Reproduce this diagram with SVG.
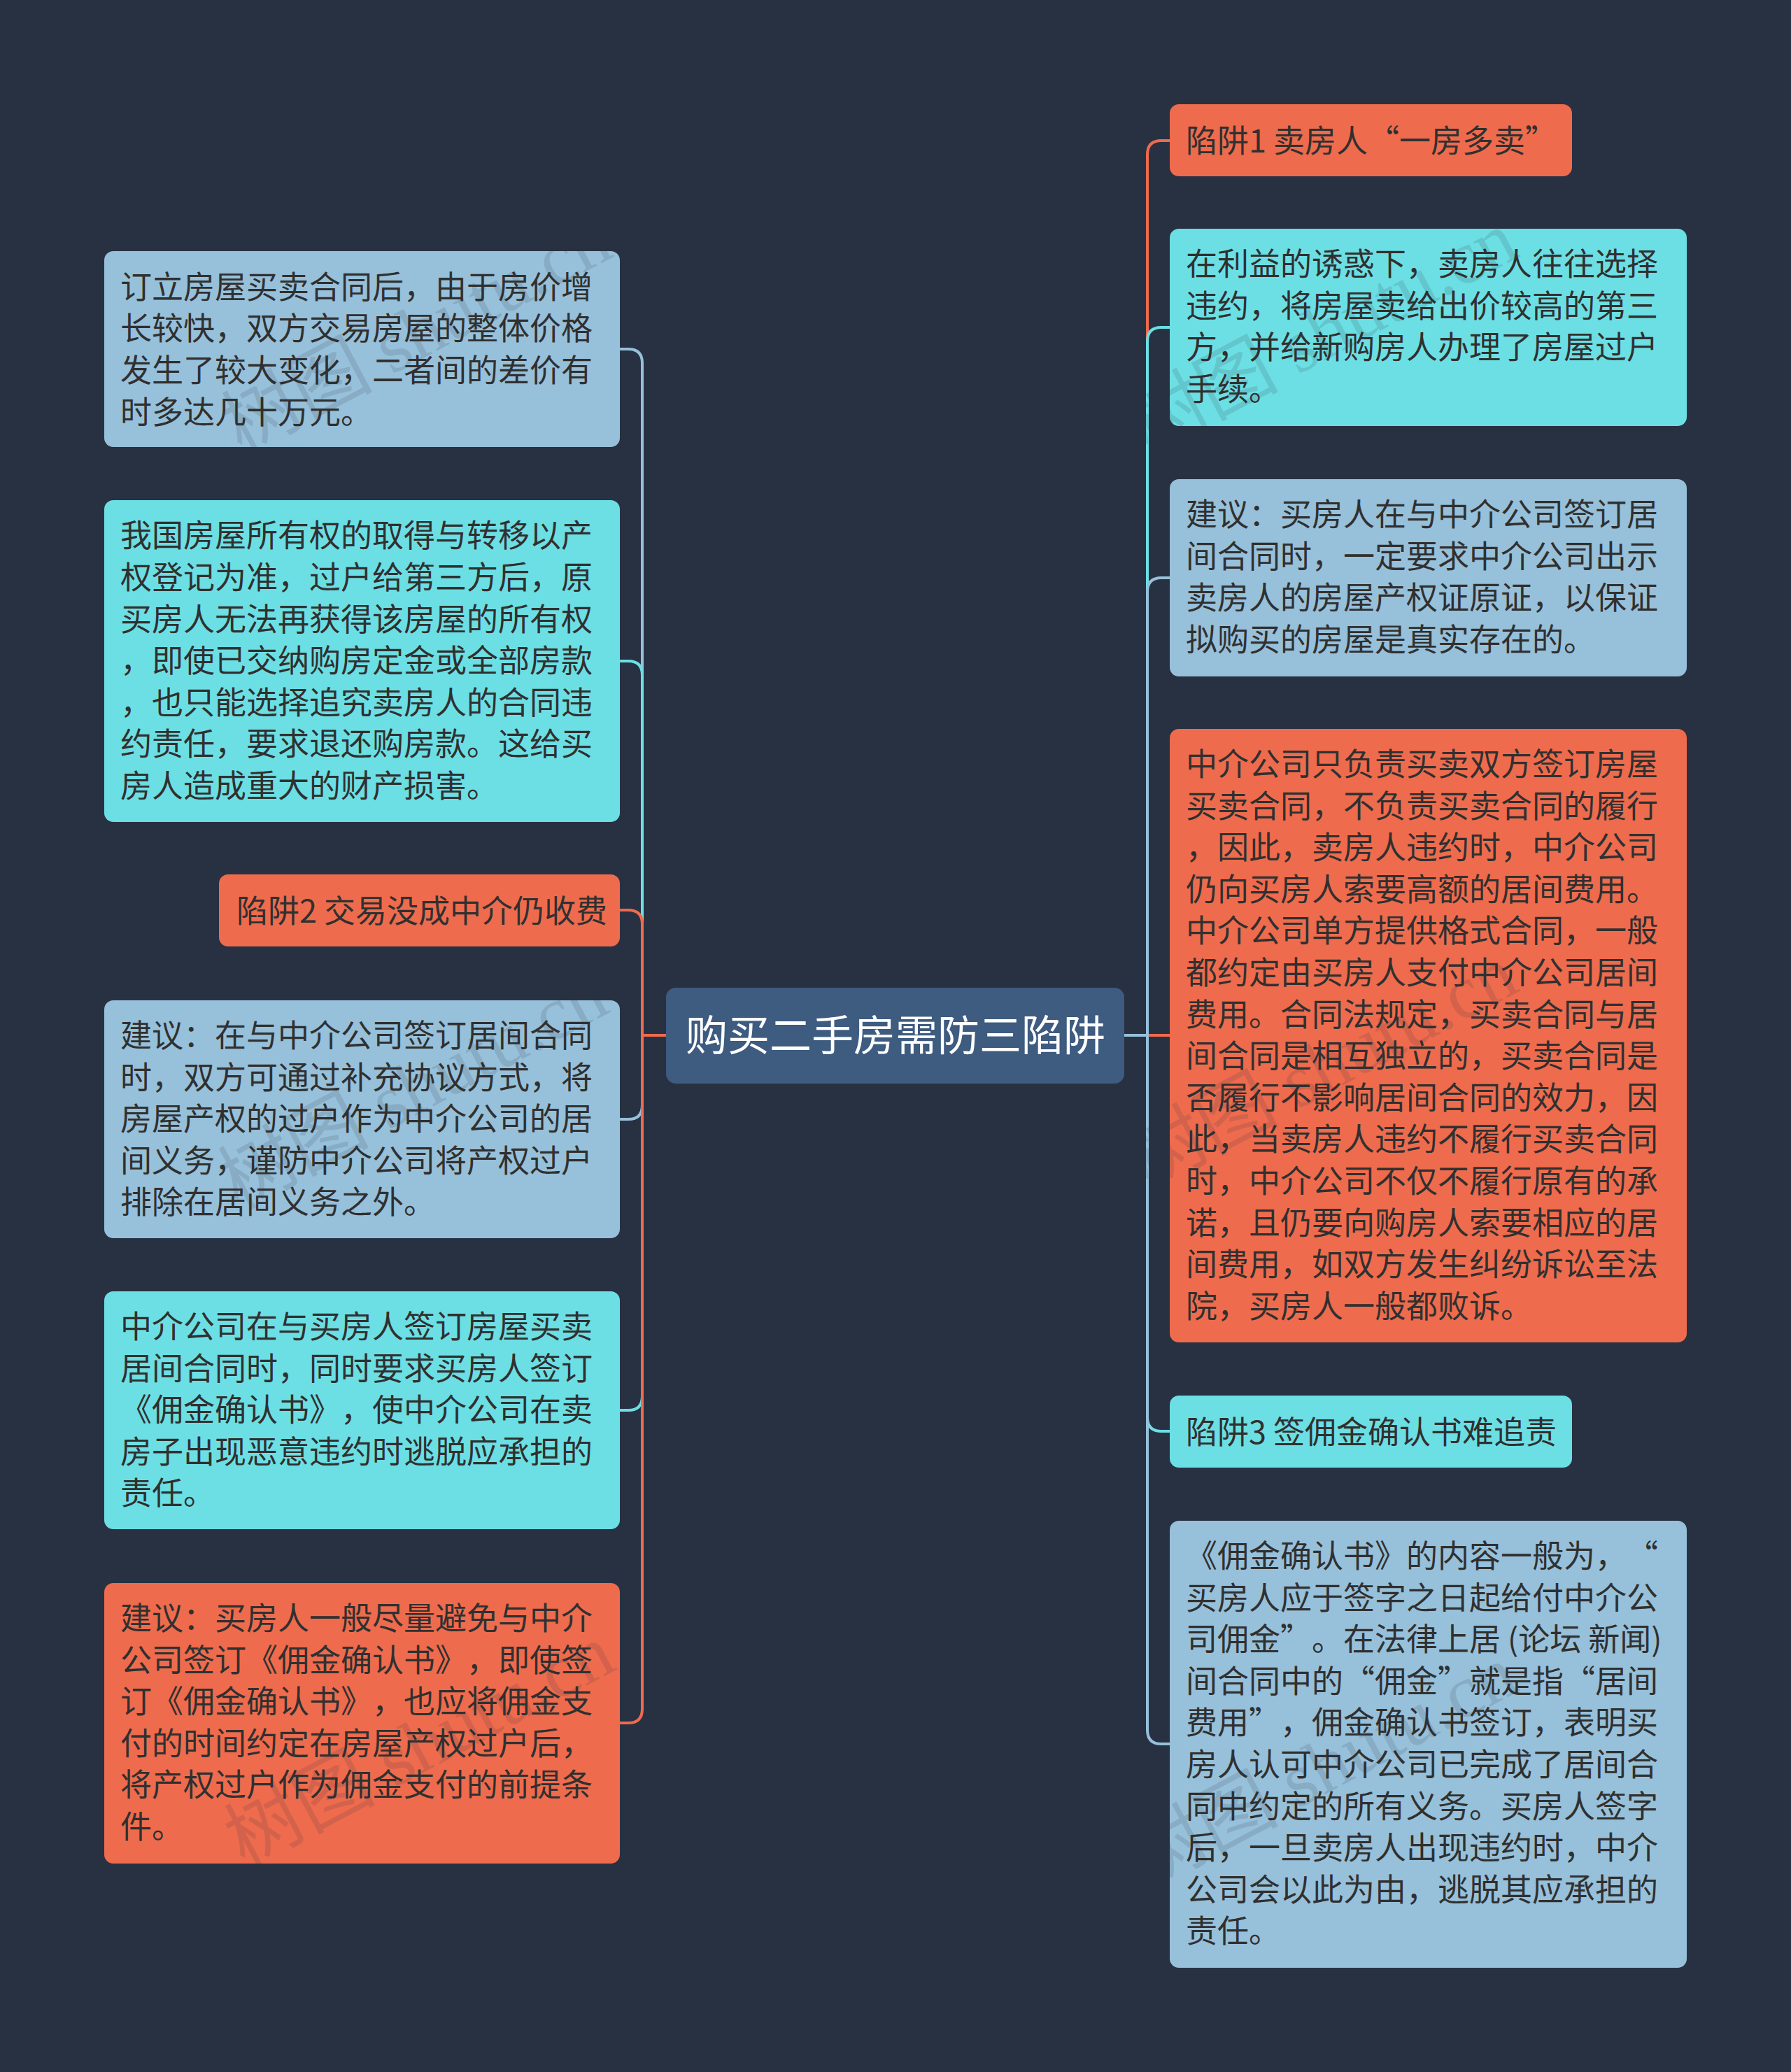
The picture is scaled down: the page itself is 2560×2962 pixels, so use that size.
<svg xmlns="http://www.w3.org/2000/svg" width="2560" height="2962" viewBox="0 0 2560 2962">
<style>
text{text-spacing-trim:space-all}
.t{font-family:"Noto Sans CJK SC","Noto Sans",sans-serif;font-size:45px;fill:#303030}
.title{font-family:"Noto Sans CJK SC","Noto Sans",sans-serif;font-size:60px;fill:#ffffff}
.or{fill:#EE6B4D}.cy{fill:#6CDFE4}.bg{fill:#97C0DA}
.c{fill:none;stroke-width:4}
.co{stroke:#EE6B4D}.cc{stroke:#6CDFE4}.cb{stroke:#97C0DA}
.wm{font-family:"Liberation Serif","Noto Sans CJK SC",serif;font-size:108px;fill:#283142;fill-opacity:0.14}
</style>
<rect width="2560" height="2962" fill="#283142"/>
<g id="connectors">
<path class="c cb" d="M952 1480 H918 V519 Q918 499 898 499 H886"/>
<path class="c cc" d="M952 1480 H918 V965 Q918 945 898 945 H886"/>
<path class="c co" d="M952 1480 H918 V1321 Q918 1301 898 1301 H886"/>
<path class="c cb" d="M952 1480 H918 V1580 Q918 1600 898 1600 H886"/>
<path class="c cc" d="M952 1480 H918 V1996 Q918 2016 898 2016 H886"/>
<path class="c co" d="M952 1480 H918 V2443 Q918 2463 898 2463 H886"/>
<path class="c co" d="M1607 1480 H1640 V221 Q1640 201 1660 201 H1672"/>
<path class="c cc" d="M1607 1480 H1640 V488 Q1640 468 1660 468 H1672"/>
<path class="c cb" d="M1607 1480 H1640 V846 Q1640 826 1660 826 H1672"/>
<path class="c co" d="M1607 1480 H1672"/>
<path class="c cc" d="M1607 1480 H1640 V2026 Q1640 2046 1660 2046 H1672"/>
<path class="c cb" d="M1607 1480 H1640 V2473 Q1640 2493 1660 2493 H1672"/>
</g>
<g id="center">
<rect x="952" y="1412" width="655" height="137" rx="14" fill="#3E5B80"/>
<text class="title" x="1280" y="1502" text-anchor="middle">购买二手房需防三陷阱</text>
</g>
<g id="L1">
<rect class="bg" x="149" y="359" width="737" height="280" rx="13"/>
<text class="t" x="172" y="427">订立房屋买卖合同后，由于房价增</text>
<text class="t" x="172" y="486">长较快，双方交易房屋的整体价格</text>
<text class="t" x="172" y="546">发生了较大变化，二者间的差价有</text>
<text class="t" x="172" y="606">时多达几十万元。</text>
</g>
<g id="L2">
<rect class="cy" x="149" y="715" width="737" height="460" rx="13"/>
<text class="t" x="172" y="782">我国房屋所有权的取得与转移以产</text>
<text class="t" x="172" y="842">权登记为准，过户给第三方后，原</text>
<text class="t" x="172" y="902">买房人无法再获得该房屋的所有权</text>
<text class="t" x="172" y="961">，即使已交纳购房定金或全部房款</text>
<text class="t" x="172" y="1021">，也只能选择追究卖房人的合同违</text>
<text class="t" x="172" y="1080">约责任，要求退还购房款。这给买</text>
<text class="t" x="172" y="1140">房人造成重大的财产损害。</text>
</g>
<g id="L3">
<rect class="or" x="313" y="1250" width="573" height="103" rx="13"/>
<text class="t" x="338" y="1319">陷阱2 交易没成中介仍收费</text>
</g>
<g id="L4">
<rect class="bg" x="149" y="1430" width="737" height="340" rx="13"/>
<text class="t" x="172" y="1497">建议：在与中介公司签订居间合同</text>
<text class="t" x="172" y="1557">时，双方可通过补充协议方式，将</text>
<text class="t" x="172" y="1616">房屋产权的过户作为中介公司的居</text>
<text class="t" x="172" y="1676">间义务，谨防中介公司将产权过户</text>
<text class="t" x="172" y="1735">排除在居间义务之外。</text>
</g>
<g id="L5">
<rect class="cy" x="149" y="1846" width="737" height="340" rx="13"/>
<text class="t" x="172" y="1913">中介公司在与买房人签订房屋买卖</text>
<text class="t" x="172" y="1973">居间合同时，同时要求买房人签订</text>
<text class="t" x="172" y="2032">《佣金确认书》，使中介公司在卖</text>
<text class="t" x="172" y="2092">房子出现恶意违约时逃脱应承担的</text>
<text class="t" x="172" y="2151">责任。</text>
</g>
<g id="L6">
<rect class="or" x="149" y="2263" width="737" height="401" rx="13"/>
<text class="t" x="172" y="2330">建议：买房人一般尽量避免与中介</text>
<text class="t" x="172" y="2390">公司签订《佣金确认书》，即使签</text>
<text class="t" x="172" y="2449">订《佣金确认书》，也应将佣金支</text>
<text class="t" x="172" y="2509">付的时间约定在房屋产权过户后，</text>
<text class="t" x="172" y="2568">将产权过户作为佣金支付的前提条</text>
<text class="t" x="172" y="2628">件。</text>
</g>
<g id="R1">
<rect class="or" x="1672" y="149" width="575" height="103" rx="13"/>
<text class="t" x="1695" y="218">陷阱1 卖房人“一房多卖”</text>
</g>
<g id="R2">
<rect class="cy" x="1672" y="327" width="739" height="282" rx="13"/>
<text class="t" x="1695" y="394">在利益的诱惑下，卖房人往往选择</text>
<text class="t" x="1695" y="454">违约，将房屋卖给出价较高的第三</text>
<text class="t" x="1695" y="513">方，并给新购房人办理了房屋过户</text>
<text class="t" x="1695" y="573">手续。</text>
</g>
<g id="R3">
<rect class="bg" x="1672" y="685" width="739" height="282" rx="13"/>
<text class="t" x="1695" y="752">建议：买房人在与中介公司签订居</text>
<text class="t" x="1695" y="812">间合同时，一定要求中介公司出示</text>
<text class="t" x="1695" y="871">卖房人的房屋产权证原证，以保证</text>
<text class="t" x="1695" y="931">拟购买的房屋是真实存在的。</text>
</g>
<g id="R4">
<rect class="or" x="1672" y="1042" width="739" height="877" rx="13"/>
<text class="t" x="1695" y="1109">中介公司只负责买卖双方签订房屋</text>
<text class="t" x="1695" y="1169">买卖合同，不负责买卖合同的履行</text>
<text class="t" x="1695" y="1228">，因此，卖房人违约时，中介公司</text>
<text class="t" x="1695" y="1288">仍向买房人索要高额的居间费用。</text>
<text class="t" x="1695" y="1347">中介公司单方提供格式合同，一般</text>
<text class="t" x="1695" y="1407">都约定由买房人支付中介公司居间</text>
<text class="t" x="1695" y="1467">费用。合同法规定，买卖合同与居</text>
<text class="t" x="1695" y="1526">间合同是相互独立的，买卖合同是</text>
<text class="t" x="1695" y="1586">否履行不影响居间合同的效力，因</text>
<text class="t" x="1695" y="1645">此，当卖房人违约不履行买卖合同</text>
<text class="t" x="1695" y="1705">时，中介公司不仅不履行原有的承</text>
<text class="t" x="1695" y="1765">诺，且仍要向购房人索要相应的居</text>
<text class="t" x="1695" y="1824">间费用，如双方发生纠纷诉讼至法</text>
<text class="t" x="1695" y="1884">院，买房人一般都败诉。</text>
</g>
<g id="R5">
<rect class="cy" x="1672" y="1995" width="575" height="103" rx="13"/>
<text class="t" x="1695" y="2064">陷阱3 签佣金确认书难追责</text>
</g>
<g id="R6">
<rect class="bg" x="1672" y="2174" width="739" height="639" rx="13"/>
<text class="t" x="1695" y="2241">《佣金确认书》的内容一般为，“</text>
<text class="t" x="1695" y="2301">买房人应于签字之日起给付中介公</text>
<text class="t" x="1695" y="2360">司佣金”。在法律上居 (论坛 新闻)</text>
<text class="t" x="1695" y="2420">间合同中的“佣金”就是指“居间</text>
<text class="t" x="1695" y="2479">费用”，佣金确认书签订，表明买</text>
<text class="t" x="1695" y="2539">房人认可中介公司已完成了居间合</text>
<text class="t" x="1695" y="2599">同中约定的所有义务。买房人签字</text>
<text class="t" x="1695" y="2658">后，一旦卖房人出现违约时，中介</text>
<text class="t" x="1695" y="2718">公司会以此为由，逃脱其应承担的</text>
<text class="t" x="1695" y="2777">责任。</text>
</g>
<g id="watermarks">
<text class="wm" transform="translate(345 650) rotate(-28)">树图 shutu.cn</text>
<text class="wm" transform="translate(1640 650) rotate(-28)">树图 shutu.cn</text>
<text class="wm" transform="translate(340 1730) rotate(-28)">树图 shutu.cn</text>
<text class="wm" transform="translate(1640 1700) rotate(-28)">树图 shutu.cn</text>
<text class="wm" transform="translate(349 2670) rotate(-28)">树图 shutu.cn</text>
<text class="wm" transform="translate(1640 2700) rotate(-28)">树图 shutu.cn</text>
</g>
</svg>
